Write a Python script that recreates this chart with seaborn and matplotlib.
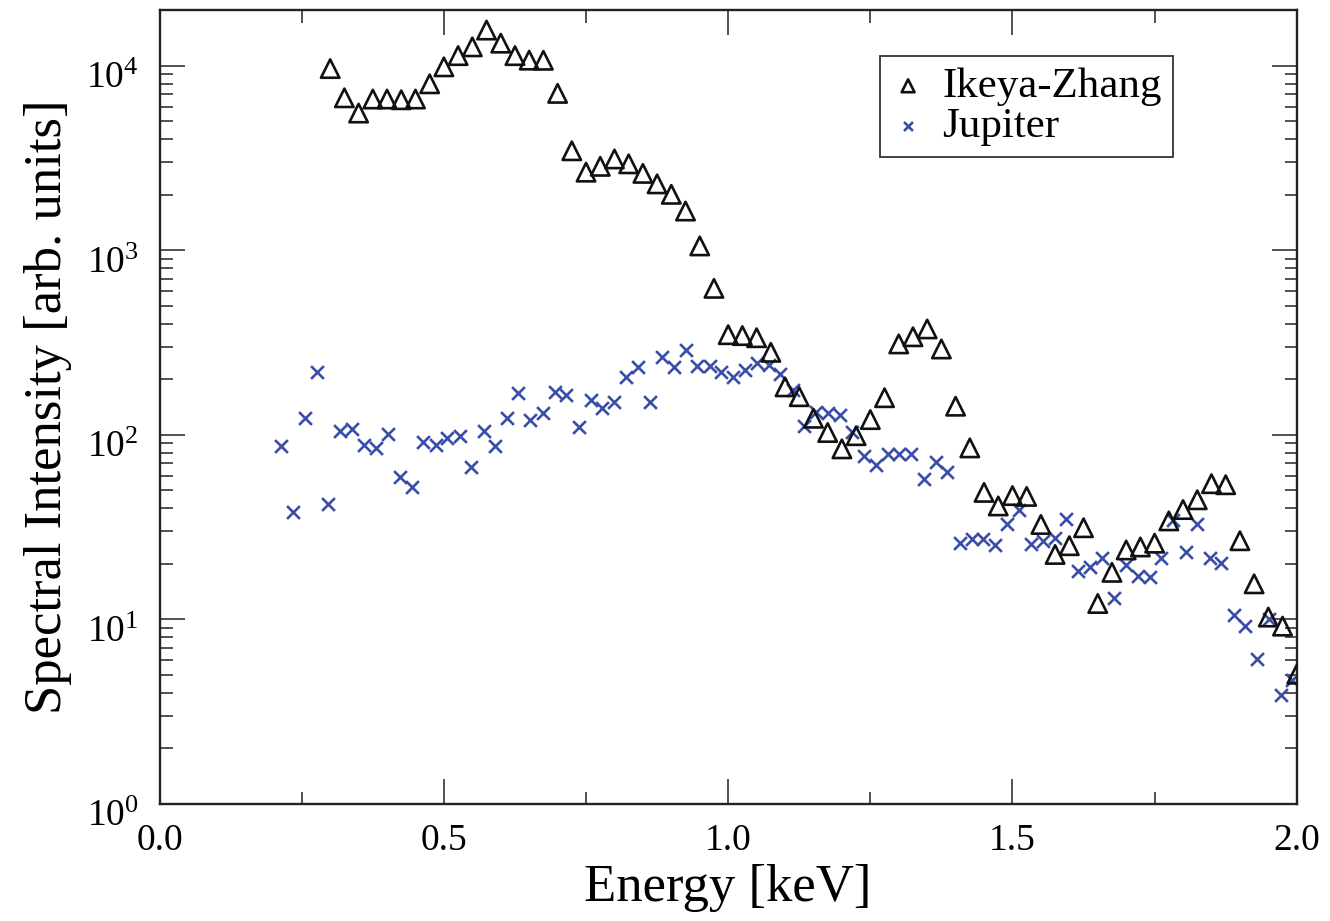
import numpy as np
import matplotlib
matplotlib.use("Agg")
import matplotlib.pyplot as plt
from matplotlib.ticker import LogLocator, MultipleLocator, NullFormatter, FormatStrFormatter
from matplotlib.transforms import ScaledTranslation
import seaborn as sns

# ---------------- data ----------------
iz_energy = [0.300, 0.325, 0.350, 0.375, 0.400, 0.425, 0.450, 0.475, 0.500, 0.525,
             0.550, 0.575, 0.600, 0.625, 0.650, 0.675, 0.700, 0.725, 0.750, 0.775,
             0.800, 0.825, 0.850, 0.875, 0.900, 0.925, 0.950, 0.975, 1.000, 1.025,
             1.050, 1.075, 1.100, 1.125, 1.150, 1.175, 1.200, 1.225, 1.250, 1.275,
             1.300, 1.325, 1.350, 1.375, 1.400, 1.425, 1.450, 1.475, 1.500, 1.525,
             1.550, 1.575, 1.600, 1.625, 1.650, 1.675, 1.700, 1.725, 1.750, 1.775,
             1.800, 1.825, 1.850, 1.875, 1.900, 1.925, 1.950, 1.975, 2.000]
iz_intensity = [9650, 6700, 5540, 6600, 6600, 6540, 6600, 7980, 9860, 11340,
                12650, 15600, 13250, 11340, 10720, 10700, 7080, 3460, 2650, 2850,
                3125, 2940, 2610, 2290, 2010, 1632, 1056, 622, 349, 345,
                336, 280, 182, 161, 123, 103, 84, 99, 121, 159,
                311, 340, 375, 292, 143, 85, 48.8, 41.2, 46.9, 46.4,
                32.7, 22.5, 25.1, 31.4, 12.2, 18.0, 23.8, 24.7, 25.9, 34.2,
                39.4, 44.5, 54.4, 53.7, 26.7, 15.6, 10.3, 9.2, 5.05]

jup_energy = [0.214, 0.234, 0.255, 0.277, 0.297, 0.318, 0.338, 0.360, 0.381, 0.402,
              0.423, 0.444, 0.464, 0.486, 0.506, 0.528, 0.548, 0.570, 0.590, 0.611,
              0.631, 0.652, 0.674, 0.695, 0.715, 0.737, 0.758, 0.778, 0.800, 0.821,
              0.842, 0.862, 0.884, 0.904, 0.925, 0.945, 0.968, 0.988, 1.009, 1.030,
              1.051, 1.071, 1.092, 1.114, 1.134, 1.155, 1.176, 1.196, 1.218, 1.239,
              1.260, 1.281, 1.301, 1.322, 1.344, 1.365, 1.385, 1.407, 1.428, 1.448,
              1.469, 1.491, 1.511, 1.532, 1.554, 1.574, 1.595, 1.615, 1.636, 1.658,
              1.678, 1.700, 1.721, 1.742, 1.762, 1.783, 1.805, 1.825, 1.847, 1.867,
              1.889, 1.909, 1.930, 1.951, 1.972, 1.992]
jup_intensity = [87, 38, 124, 219, 42, 105, 108, 88, 85, 101,
                 59, 52, 92, 88, 96, 99, 67, 105, 87, 124,
                 169, 120, 132, 171, 164, 110, 155, 139, 151, 205,
                 232, 150, 265, 234, 290, 236, 236, 220, 206, 224,
                 246, 239, 213, 175, 111, 133, 131, 128, 104, 77,
                 69, 79, 79, 79, 57.5, 71.5, 63, 26, 27.2, 27.2,
                 25.3, 32.8, 39.1, 25.5, 26.7, 27.5, 34.9, 18.4, 19.3, 21.4,
                 13.0, 19.7, 17.2, 17.0, 21.4, 34.5, 23.1, 32.8, 21.6, 20.1,
                 10.6, 9.25, 6.08, 10.0, 3.89, 4.70]

series_labels = ["Ikeya-Zhang", "Jupiter"]
x_label = "Energy [keV]"
y_label = "Spectral Intensity [arb. units]"

# ---------------- style ----------------
sns.set_style("ticks")
plt.rcParams["font.family"] = ["Liberation Serif", "DejaVu Serif"]
plt.rcParams["mathtext.fontset"] = "custom"
plt.rcParams["mathtext.rm"] = "Liberation Serif"
plt.rcParams["mathtext.it"] = "Liberation Serif:italic"
plt.rcParams["mathtext.bf"] = "Liberation Serif:bold"
plt.rcParams["text.color"] = "black"
plt.rcParams["axes.labelcolor"] = "black"

fig = plt.figure(figsize=(13.3, 9.21), dpi=100)
ax = fig.add_axes([0.12, 0.127, 0.855, 0.862])

blue = "#3a4ea8"

sns.scatterplot(x=iz_energy, y=iz_intensity, ax=ax, marker="^", s=175,
                facecolor="none", edgecolor="#111111", linewidth=1.9,
                label=series_labels[0], zorder=3)
sns.scatterplot(x=jup_energy, y=jup_intensity, ax=ax, marker="x", s=85,
                color=blue, linewidth=1.9, label=series_labels[1], zorder=2)

ax.set_yscale("log")
ax.set_xlim(0.0, 2.0)
ax.set_ylim(1.0, 2.0e4)

ax.xaxis.set_major_locator(MultipleLocator(0.5))
ax.xaxis.set_minor_locator(MultipleLocator(0.25))
ax.xaxis.set_major_formatter(FormatStrFormatter("%.1f"))
ax.yaxis.set_major_locator(LogLocator(base=10, numticks=10))
ax.yaxis.set_minor_locator(LogLocator(base=10, subs=np.arange(2, 10), numticks=20))
ax.yaxis.set_minor_formatter(NullFormatter())

ax.tick_params(which="both", direction="in", top=True, right=True,
               colors="#222222", labelcolor="black", width=1.1)
ax.tick_params(which="major", length=18, labelsize=27)
ax.tick_params(which="minor", length=9)
ax.tick_params(axis="x", which="major", pad=14)
ax.tick_params(axis="y", which="major", pad=15)

for sp in ax.spines.values():
    sp.set_linewidth(1.7)
    sp.set_color("#222222")

ax.set_xlabel(x_label, fontsize=38, labelpad=4)
ax.set_ylabel(y_label, fontsize=38, labelpad=10)

# y tick labels sit slightly below their ticks in the reference
offset = ScaledTranslation(0, -9 / 100, fig.dpi_scale_trans)
for lbl in ax.get_yticklabels():
    lbl.set_transform(lbl.get_transform() + offset)

leg = ax.legend(loc="upper right", bbox_to_anchor=(0.891, 0.942), fontsize=31,
                frameon=True, fancybox=False, framealpha=1, edgecolor="#333333",
                markerscale=0.7, handletextpad=0.4, labelspacing=0.02,
                borderpad=0.25, handlelength=0.8, borderaxespad=0)
leg.get_frame().set_linewidth(1.3)

fig.savefig("out.png", dpi=100)
